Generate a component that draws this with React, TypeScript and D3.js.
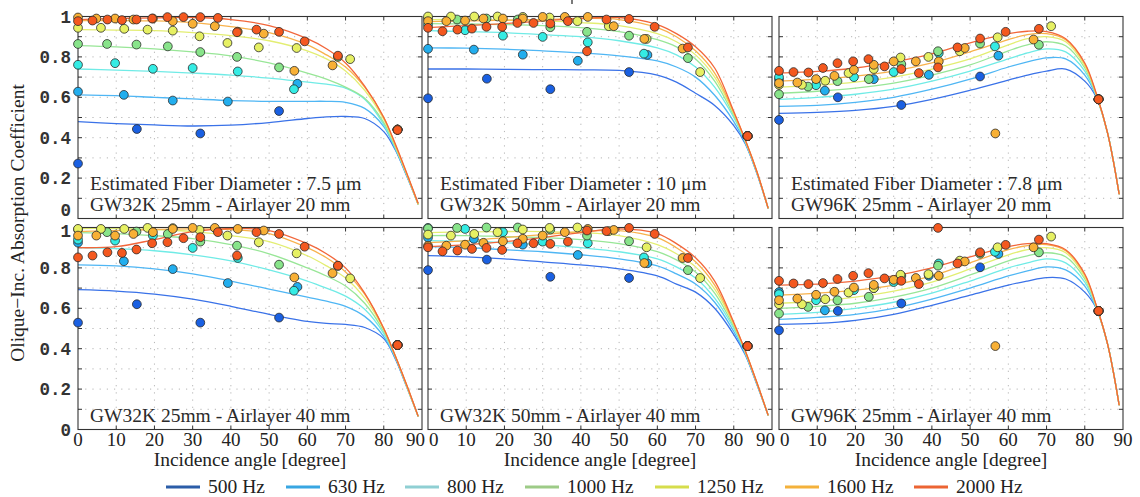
import * as d3 from 'd3'

const W = 1140
const H = 497

const freqs = ['500 Hz', '630 Hz', '800 Hz', '1000 Hz', '1250 Hz', '1600 Hz', '2000 Hz']
const lineColors = ['#3a72e8', '#4fb6f4', '#70ebe6', '#98e697', '#e3ee72', '#f8b24c', '#f2663a']
const pointColors = ['#1a60e2', '#22aeee', '#34ece4', '#88e48a', '#e6f063', '#f8b035', '#f4581f']
const legendColors = ['#2b5da8', '#38a6e2', '#8fcfd3', '#9dcb87', '#d6dd4c', '#f4b13b', '#ec6433']

// angles of the model curves
const lineAngles = [0, 10, 20, 30, 40, 50, 60, 65, 70, 75, 80, 83, 86, 89]

// measured angles per frequency
const ang500 = [0, 15.4, 32, 52.6, 83.6]
const ang630 = [0, 12, 24.8, 39.2, 57.4, 83.6]
const ang800 = [0, 9.7, 19.6, 30, 41.8, 56.5, 83.6]
const ang1000 = [0, 7.6, 15.3, 23.5, 32, 41.6, 52.6, 68, 83.6]
const ang1250 = [0, 6, 12.1, 18.2, 24.8, 31.8, 39.1, 47.3, 57.2, 71.2, 83.6]
const ang1600 = [0, 4.8, 9.7, 14.5, 19.6, 24.8, 30, 35.8, 41.8, 48.6, 56.6, 66.6, 83.6]
const ang2000 = [0, 3.8, 7.7, 11.5, 15.3, 19.4, 23.4, 27.6, 32, 36.6, 41.6, 46.7, 52.6, 59.3, 68, 83.6]
const pointAngles = [ang500, ang630, ang800, ang1000, ang1250, ang1600, ang2000]

// model curves, one row per frequency (500 .. 2000 Hz)
const fitP1 = [
  [0.48, 0.47, 0.463, 0.458, 0.462, 0.475, 0.495, 0.503, 0.505, 0.495, 0.43, 0.34, 0.21, 0.07],
  [0.612, 0.608, 0.6, 0.592, 0.584, 0.58, 0.58, 0.58, 0.575, 0.545, 0.455, 0.345, 0.215, 0.07],
  [0.74, 0.735, 0.728, 0.72, 0.71, 0.695, 0.675, 0.665, 0.645, 0.59, 0.465, 0.35, 0.215, 0.07],
  [0.856, 0.85, 0.84, 0.825, 0.805, 0.77, 0.72, 0.69, 0.65, 0.595, 0.475, 0.355, 0.218, 0.07],
  [0.935, 0.933, 0.93, 0.92, 0.905, 0.88, 0.83, 0.79, 0.73, 0.635, 0.49, 0.36, 0.22, 0.07],
  [0.98, 0.98, 0.978, 0.97, 0.95, 0.92, 0.86, 0.81, 0.75, 0.65, 0.5, 0.365, 0.222, 0.07],
  [0.985, 0.99, 0.993, 0.995, 0.985, 0.955, 0.89, 0.84, 0.77, 0.655, 0.5, 0.37, 0.225, 0.075],
]
const fitP2 = [
  [0.74, 0.74, 0.738, 0.737, 0.736, 0.733, 0.71, 0.675, 0.62, 0.56, 0.46, 0.37, 0.225, 0.05],
  [0.845, 0.843, 0.838, 0.83, 0.82, 0.805, 0.78, 0.75, 0.7, 0.61, 0.48, 0.375, 0.228, 0.05],
  [0.93, 0.925, 0.92, 0.91, 0.9, 0.88, 0.845, 0.81, 0.75, 0.65, 0.5, 0.38, 0.23, 0.05],
  [0.965, 0.963, 0.96, 0.955, 0.945, 0.925, 0.885, 0.85, 0.79, 0.68, 0.51, 0.385, 0.232, 0.05],
  [0.985, 0.985, 0.982, 0.978, 0.97, 0.955, 0.915, 0.875, 0.81, 0.7, 0.52, 0.385, 0.232, 0.05],
  [0.975, 0.978, 0.982, 0.985, 0.99, 0.985, 0.945, 0.9, 0.83, 0.72, 0.525, 0.39, 0.235, 0.05],
  [0.945, 0.955, 0.965, 0.978, 0.99, 0.995, 0.96, 0.915, 0.85, 0.745, 0.53, 0.39, 0.235, 0.05],
]
const fitP3 = [
  [0.52, 0.525, 0.535, 0.555, 0.59, 0.635, 0.685, 0.71, 0.73, 0.74, 0.68, 0.6, 0.42, 0.12],
  [0.555, 0.56, 0.575, 0.6, 0.64, 0.69, 0.75, 0.775, 0.795, 0.79, 0.71, 0.605, 0.42, 0.12],
  [0.59, 0.6, 0.615, 0.64, 0.68, 0.73, 0.79, 0.82, 0.84, 0.825, 0.73, 0.61, 0.42, 0.12],
  [0.62, 0.63, 0.645, 0.67, 0.71, 0.76, 0.83, 0.86, 0.875, 0.855, 0.745, 0.61, 0.42, 0.12],
  [0.65, 0.66, 0.675, 0.7, 0.74, 0.79, 0.86, 0.89, 0.9, 0.875, 0.755, 0.615, 0.42, 0.12],
  [0.68, 0.69, 0.705, 0.73, 0.77, 0.825, 0.885, 0.91, 0.915, 0.885, 0.765, 0.615, 0.42, 0.12],
  [0.72, 0.728, 0.745, 0.775, 0.815, 0.87, 0.915, 0.927, 0.925, 0.89, 0.77, 0.62, 0.42, 0.12],
]
const fitP4 = [
  [0.692, 0.685, 0.67, 0.645, 0.61, 0.57, 0.535, 0.525, 0.52, 0.505, 0.45, 0.35, 0.21, 0.065],
  [0.815, 0.81, 0.795, 0.77, 0.735, 0.695, 0.655, 0.635, 0.61, 0.56, 0.46, 0.355, 0.215, 0.065],
  [0.9, 0.895, 0.885, 0.865, 0.835, 0.79, 0.735, 0.7, 0.66, 0.595, 0.475, 0.36, 0.215, 0.065],
  [0.975, 0.97, 0.96, 0.945, 0.915, 0.87, 0.8, 0.76, 0.71, 0.625, 0.485, 0.36, 0.215, 0.065],
  [0.995, 0.995, 0.99, 0.98, 0.96, 0.93, 0.86, 0.81, 0.75, 0.65, 0.495, 0.365, 0.215, 0.065],
  [0.98, 0.985, 0.99, 0.993, 0.99, 0.97, 0.9, 0.85, 0.78, 0.67, 0.5, 0.365, 0.22, 0.065],
  [0.9, 0.905, 0.94, 0.98, 0.995, 0.985, 0.92, 0.87, 0.8, 0.675, 0.5, 0.365, 0.22, 0.065],
]
const fitP5 = [
  [0.861, 0.855, 0.845, 0.83, 0.815, 0.795, 0.76, 0.72, 0.68, 0.6, 0.47, 0.37, 0.225, 0.07],
  [0.905, 0.9, 0.89, 0.88, 0.865, 0.845, 0.81, 0.77, 0.72, 0.63, 0.485, 0.375, 0.228, 0.07],
  [0.935, 0.932, 0.925, 0.915, 0.9, 0.88, 0.845, 0.805, 0.75, 0.65, 0.5, 0.38, 0.23, 0.07],
  [0.96, 0.96, 0.955, 0.95, 0.94, 0.92, 0.88, 0.84, 0.78, 0.675, 0.51, 0.385, 0.232, 0.07],
  [0.975, 0.978, 0.98, 0.98, 0.975, 0.96, 0.915, 0.87, 0.805, 0.695, 0.52, 0.385, 0.232, 0.07],
  [0.925, 0.935, 0.95, 0.965, 0.98, 0.985, 0.95, 0.9, 0.83, 0.715, 0.525, 0.39, 0.235, 0.07],
  [0.905, 0.915, 0.93, 0.95, 0.975, 0.993, 0.97, 0.92, 0.85, 0.735, 0.53, 0.39, 0.235, 0.07],
]
const fitP6 = [
  [0.52, 0.525, 0.54, 0.57, 0.615, 0.665, 0.715, 0.735, 0.752, 0.745, 0.68, 0.6, 0.42, 0.12],
  [0.545, 0.555, 0.57, 0.6, 0.645, 0.7, 0.76, 0.785, 0.805, 0.79, 0.71, 0.6, 0.42, 0.12],
  [0.57, 0.58, 0.6, 0.63, 0.675, 0.735, 0.8, 0.825, 0.845, 0.825, 0.73, 0.605, 0.42, 0.12],
  [0.6, 0.61, 0.625, 0.655, 0.7, 0.765, 0.835, 0.86, 0.875, 0.855, 0.745, 0.61, 0.42, 0.12],
  [0.625, 0.635, 0.655, 0.685, 0.73, 0.795, 0.865, 0.89, 0.9, 0.875, 0.755, 0.61, 0.42, 0.12],
  [0.665, 0.675, 0.69, 0.715, 0.76, 0.825, 0.89, 0.91, 0.915, 0.885, 0.765, 0.615, 0.42, 0.12],
  [0.715, 0.72, 0.735, 0.76, 0.8, 0.855, 0.905, 0.92, 0.92, 0.89, 0.77, 0.615, 0.42, 0.12],
]

// measurements, one row per frequency, matching pointAngles
const ptsP1 = [
  [0.272, 0.443, 0.421, 0.532, 0.44],
  [0.628, 0.612, 0.584, 0.579, 0.667, 0.44],
  [0.761, 0.769, 0.741, 0.745, 0.728, 0.64, 0.44],
  [0.864, 0.864, 0.861, 0.852, 0.824, 0.8, 0.748, 0.8, 0.44],
  [0.944, 0.944, 0.939, 0.935, 0.93, 0.902, 0.869, 0.847, 0.844, 0.789, 0.44],
  [0.995, 0.99, 0.99, 0.985, 0.99, 0.977, 0.964, 0.952, 0.925, 0.915, 0.731, 0.758, 0.44],
  [0.977, 0.98, 0.985, 0.982, 0.985, 0.99, 0.997, 0.997, 0.997, 0.993, 0.922, 0.935, 0.924, 0.877, 0.806, 0.438],
]
const ptsP2 = [
  [0.595, 0.692, 0.64, 0.725, 0.408],
  [0.84, 0.836, 0.811, 0.781, 0.81, 0.408],
  [0.96, 0.932, 0.905, 0.899, 0.872, 0.816, 0.408],
  [0.99, 0.985, 0.99, 0.985, 0.947, 0.924, 0.905, 0.794, 0.408],
  [1.0, 1.0, 1.0, 1.0, 0.998, 0.995, 0.977, 0.952, 0.889, 0.725, 0.408],
  [0.977, 0.977, 0.98, 0.99, 0.99, 0.99, 0.998, 0.998, 0.998, 0.952, 0.889, 0.841, 0.408],
  [0.944, 0.927, 0.935, 0.94, 0.949, 0.949, 0.968, 0.968, 0.965, 0.977, 0.828, 0.985, 0.988, 0.949, 0.847, 0.408],
]
const ptsP3 = [
  [0.488, 0.6, 0.562, 0.703, 0.59],
  [0.687, 0.633, 0.69, 0.711, 0.806, 0.59],
  [0.7, 0.66, 0.7, 0.725, 0.819, 0.852, 0.59],
  [0.615, 0.653, 0.68, 0.69, 0.764, 0.828, 0.866, 0.86, 0.59],
  [0.662, 0.662, 0.682, 0.72, 0.74, 0.797, 0.8, 0.828, 0.897, 0.952, 0.59],
  [0.67, 0.673, 0.69, 0.706, 0.736, 0.761, 0.778, 0.778, 0.778, 0.844, 0.421, 0.886, 0.59],
  [0.731, 0.725, 0.723, 0.745, 0.769, 0.778, 0.789, 0.753, 0.74, 0.72, 0.748, 0.847, 0.891, 0.924, 0.939, 0.59],
]
const ptsP4 = [
  [0.529, 0.62, 0.529, 0.554, 0.418],
  [0.925, 0.833, 0.794, 0.725, 0.706, 0.418],
  [0.94, 0.935, 0.96, 0.899, 0.849, 0.687, 0.418],
  [0.99, 0.977, 0.98, 0.968, 0.93, 0.91, 0.816, 0.81, 0.418],
  [0.993, 0.993, 0.993, 0.998, 0.997, 0.988, 0.96, 0.927, 0.872, 0.748, 0.418],
  [0.96, 0.96, 0.96, 0.968, 0.977, 0.993, 0.998, 0.998, 0.993, 0.985, 0.753, 0.774, 0.418],
  [0.852, 0.861, 0.877, 0.874, 0.891, 0.922, 0.927, 0.947, 0.952, 0.977, 0.861, 0.977, 0.968, 0.905, 0.811, 0.418],
]
const ptsP5 = [
  [0.789, 0.841, 0.756, 0.75, 0.413],
  [0.95, 0.944, 0.915, 0.864, 0.823, 0.413],
  [0.998, 0.993, 0.977, 0.93, 0.922, 0.852, 0.413],
  [0.995, 0.998, 1.0, 1.0, 0.99, 0.96, 0.932, 0.789, 0.413],
  [0.965, 0.96, 0.968, 0.977, 0.99, 0.998, 1.0, 0.982, 0.902, 0.75, 0.413],
  [0.91, 0.91, 0.915, 0.924, 0.932, 0.944, 0.96, 0.977, 0.993, 0.988, 0.824, 0.849, 0.413],
  [0.902, 0.882, 0.886, 0.894, 0.899, 0.889, 0.922, 0.922, 0.919, 0.93, 0.985, 0.982, 0.998, 0.968, 0.849, 0.413],
]
const ptsP6 = [
  [0.491, 0.587, 0.624, 0.803, 0.587],
  [0.68, 0.59, 0.7, 0.761, 0.869, 0.587],
  [0.67, 0.64, 0.69, 0.73, 0.822, 0.88, 0.587],
  [0.574, 0.607, 0.64, 0.657, 0.76, 0.811, 0.87, 0.877, 0.587],
  [0.62, 0.62, 0.645, 0.678, 0.7, 0.766, 0.769, 0.836, 0.902, 0.955, 0.587],
  [0.64, 0.648, 0.667, 0.682, 0.703, 0.716, 0.741, 0.75, 0.761, 0.832, 0.413, 0.902, 0.587],
  [0.736, 0.723, 0.72, 0.725, 0.745, 0.761, 0.774, 0.748, 0.736, 0.72, 0.998, 0.822, 0.877, 0.914, 0.94, 0.587],
]

const labelsP1 = ['Estimated Fiber Diameter : 7.5 μm', 'GW32K 25mm - Airlayer 20 mm']
const labelsP2 = ['Estimated Fiber Diameter : 10 μm', 'GW32K 50mm - Airlayer 20 mm']
const labelsP3 = ['Estimated Fiber Diameter : 7.8 μm', 'GW96K 25mm - Airlayer 20 mm']
const labelsP4 = ['GW32K 25mm - Airlayer 40 mm']
const labelsP5 = ['GW32K 50mm - Airlayer 40 mm']
const labelsP6 = ['GW96K 25mm - Airlayer 40 mm']

const xTicks = [0, 10, 20, 30, 40, 50, 60, 70, 80, 90]
const yTicks = [0, 0.2, 0.4, 0.6, 0.8, 1]
const yGrid = [0.1, 0.2, 0.3, 0.4, 0.5, 0.6, 0.7, 0.8, 0.9]

const panels = [
  { fit: fitP1, pts: ptsP1, labels: labelsP1 },
  { fit: fitP2, pts: ptsP2, labels: labelsP2 },
  { fit: fitP3, pts: ptsP3, labels: labelsP3 },
  { fit: fitP4, pts: ptsP4, labels: labelsP4 },
  { fit: fitP5, pts: ptsP5, labels: labelsP5 },
  { fit: fitP6, pts: ptsP6, labels: labelsP6 },
]

const colX = [78, 428, 779]
const rowY = [16.5, 227.5]
const pw = 344
const ph = 202

const serif = 'Liberation Serif, Times New Roman, serif'
const mono = 'Liberation Mono, Courier New, monospace'

function Panel({ p, col, row }: { p: any; col: number; row: number }) {
  const x0 = colX[col]
  const y0 = rowY[row]
  const x = d3.scaleLinear().domain([0, 90]).range([x0, x0 + pw])
  const y = d3.scaleLinear().domain([0, 1]).range([y0 + ph, y0])
  const line = d3.line<[number, number]>()
    .x(d => x(d[0]))
    .y(d => y(d[1]))
    .curve(d3.curveCatmullRom.alpha(0.5))
  const tl = 4

  return (
    <g>
      {/* dotted grid */}
      {xTicks.slice(1, -1).map(t => (
        <line key={'gx' + t} x1={x(t)} x2={x(t)} y1={y(0)} y2={y(1)}
          stroke="#b5b5b5" strokeWidth={1} strokeDasharray="1.2,6" />
      ))}
      {yGrid.map(t => (
        <line key={'gy' + t} x1={x(0)} x2={x(90)} y1={y(t)} y2={y(t)}
          stroke="#b5b5b5" strokeWidth={1} strokeDasharray="1.2,6" />
      ))}
      {/* inward ticks */}
      {xTicks.slice(1, -1).map(t => (
        <g key={'tx' + t}>
          <line x1={x(t)} x2={x(t)} y1={y(0)} y2={y(0) - tl} stroke="#333" />
          <line x1={x(t)} x2={x(t)} y1={y(1)} y2={y(1) + tl} stroke="#333" />
        </g>
      ))}
      {yGrid.map(t => (
        <g key={'ty' + t}>
          <line x1={x(0)} x2={x(0) + tl} y1={y(t)} y2={y(t)} stroke="#333" />
          <line x1={x(90)} x2={x(90) - tl} y1={y(t)} y2={y(t)} stroke="#333" />
        </g>
      ))}
      {/* panel labels */}
      {p.labels.map((s: string, i: number) => (
        <text key={s} x={x0 + 12} y={y0 + ph - 8 - (p.labels.length - 1 - i) * 21}
          fontFamily={serif} fontSize={19.5} fill="#2a2a2a">{s}</text>
      ))}
      {/* model curves */}
      {p.fit.map((vals: number[], k: number) => (
        <path key={'l' + k} d={line(lineAngles.map((a, i) => [a, vals[i]]) as [number, number][]) || ''}
          fill="none" stroke={lineColors[k]} strokeWidth={1.3} />
      ))}
      {/* frame */}
      <rect x={x0} y={y0} width={pw} height={ph} fill="none" stroke="#333" strokeWidth={1.1} />
      {/* measurements */}
      {p.pts.map((vals: number[], k: number) =>
        vals.map((v, i) => (
          <circle key={'p' + k + '-' + i} cx={x(pointAngles[k][i])} cy={y(v)} r={4.4}
            fill={pointColors[k]} stroke="#2a2a2a" strokeWidth={0.8} />
        ))
      )}
      {/* y tick labels */}
      {col === 0 && yTicks.map(t => {
        let dy = 0
        if (row === 0 && t === 0) dy = -9
        if (row === 1 && t === 1) dy = 3
        return (
          <text key={'yl' + t} x={x0 - 7} y={y(t) + dy} dy="0.35em" textAnchor="end"
            fontFamily={mono} fontSize={17.5} fontWeight="bold" fill="#333">{d3.format('~g')(t)}</text>
        )
      })}
      {/* x tick labels */}
      {row === 1 && xTicks.map(t => {
        let anchor = 'middle'
        let xx = x(t)
        if (t === 90 && col < 2) { anchor = 'end'; xx = x(t) + 3 }
        if (t === 0 && col > 0) { anchor = 'start'; xx = x(t) + 1 }
        return (
          <text key={'xl' + t} x={xx} y={446} textAnchor={anchor}
            fontFamily={serif} fontSize={19} fill="#222">{t}</text>
        )
      })}
      {row === 1 && (
        <text x={x0 + pw / 2} y={466} textAnchor="middle" fontFamily={serif} fontSize={19.5} fill="#222">
          Incidence angle [degree]
        </text>
      )}
    </g>
  )
}

export default function App() {
  const legendX = [166, 286, 405, 525, 655, 785, 914]
  return (
    <div style={{ position: 'absolute', left: 0, top: 0 }}>
      <svg width={W} height={H} style={{ display: 'block', background: '#fff' }}>
        <line x1={572} x2={572} y1={0} y2={4} stroke="#222" strokeWidth={1.2} />
        {panels.map((p, i) => (
          <Panel key={i} p={p} col={i % 3} row={Math.floor(i / 3)} />
        ))}
        <text transform={`translate(24,${rowY[0] + (rowY[1] + ph - rowY[0]) / 2}) rotate(-90)`}
          textAnchor="middle" fontFamily={serif} fontSize={19.5} fill="#222">
          Olique−Inc. Absorption Coefficient
        </text>
        {freqs.map((f, i) => (
          <g key={f}>
            <line x1={legendX[i]} x2={legendX[i] + 34} y1={487} y2={487}
              stroke={legendColors[i]} strokeWidth={3} />
            <text x={legendX[i] + 42} y={493} fontFamily={serif} fontSize={19.5} fill="#222">{f}</text>
          </g>
        ))}
      </svg>
    </div>
  )
}
